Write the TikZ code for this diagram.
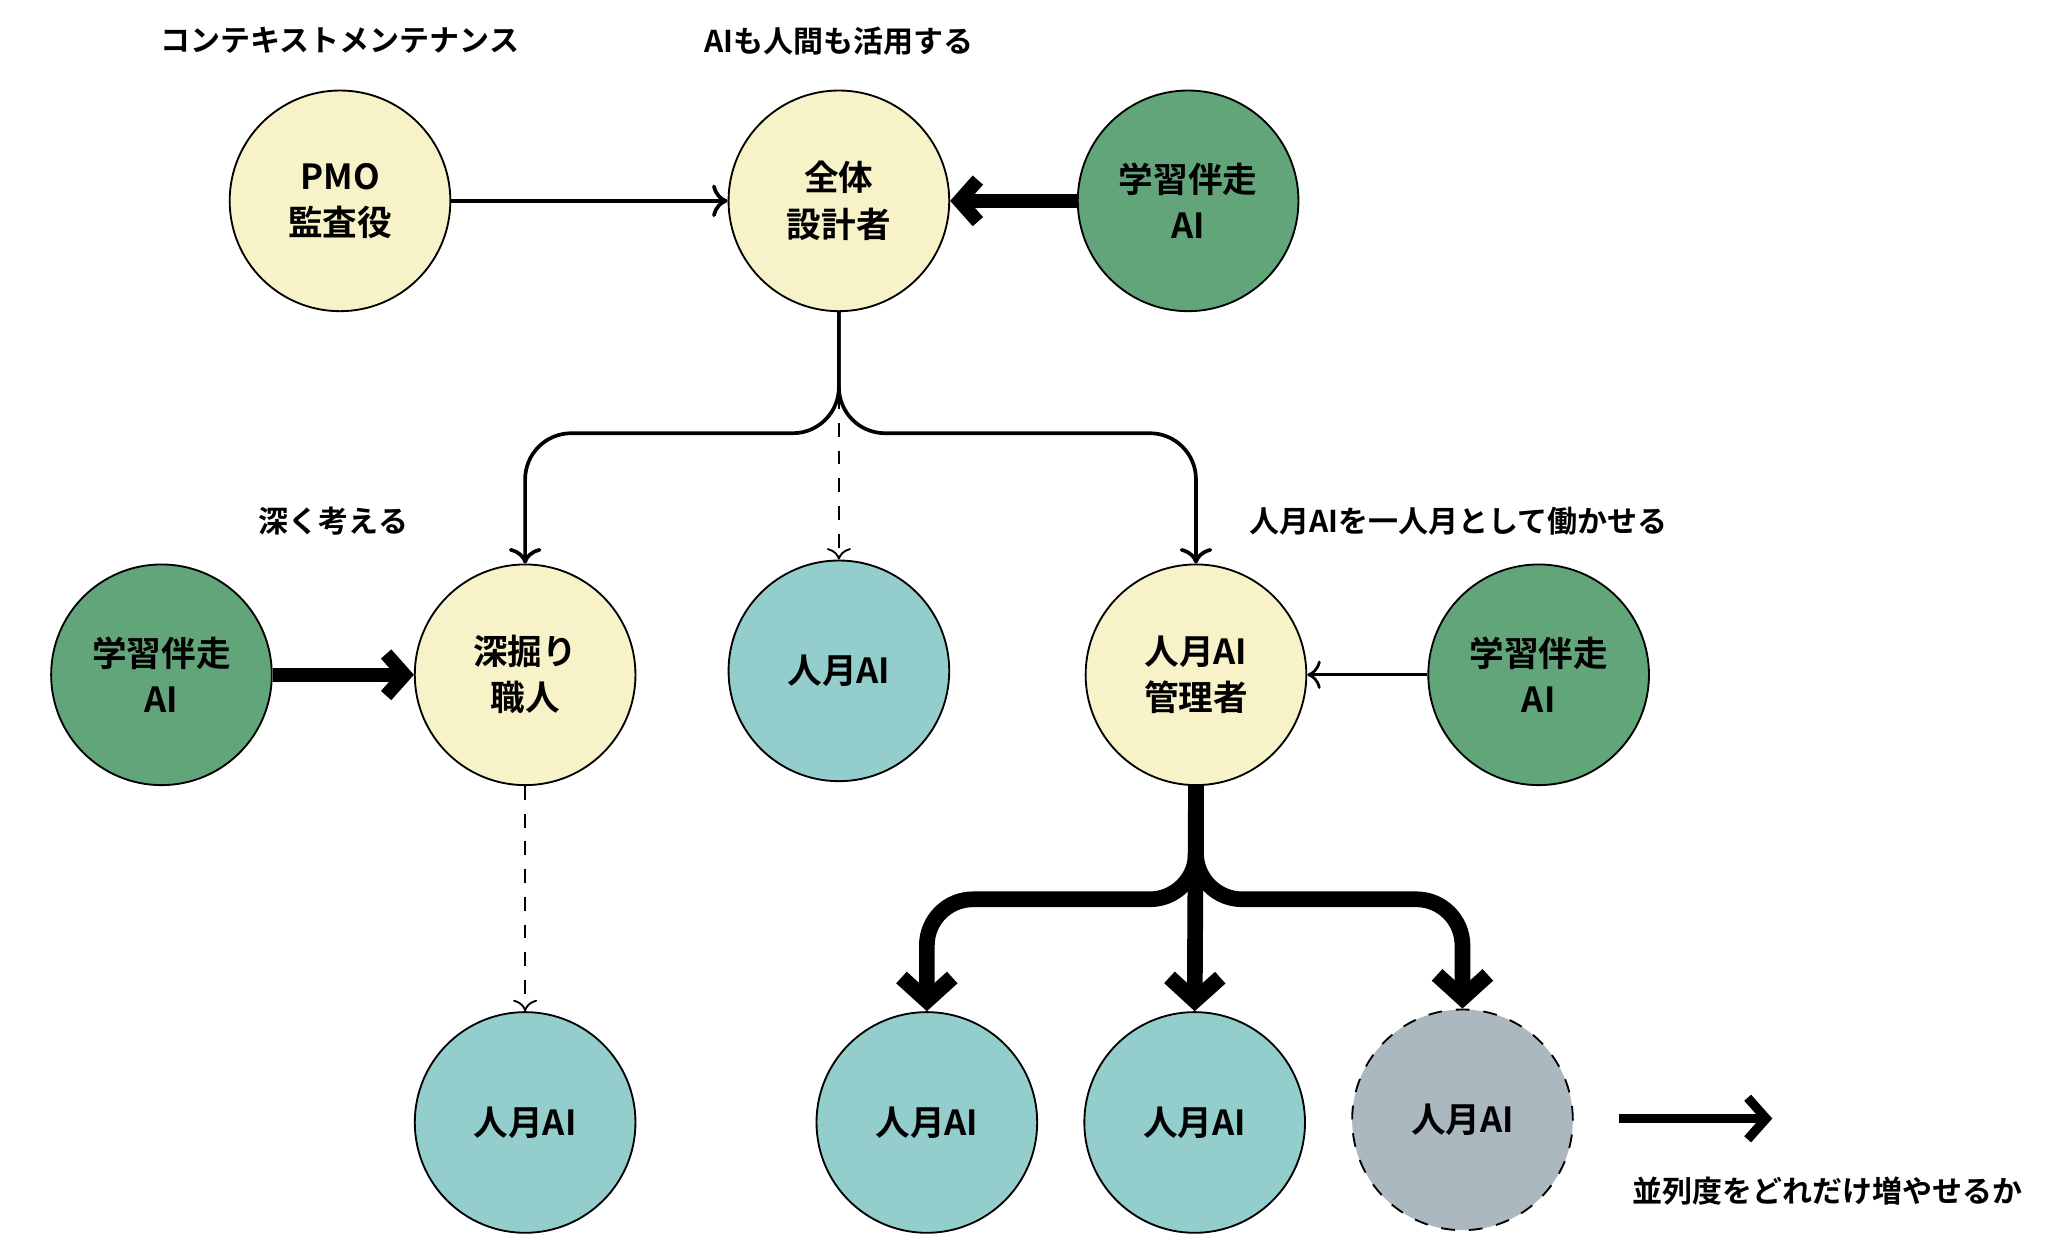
\documentclass[tikz,border=0pt]{standalone}
\usepackage{fontspec}
\setmainfont{Noto Sans CJK JP}[BoldFont={Noto Sans CJK JP Bold}]
\usetikzlibrary{arrows.meta,positioning}
\definecolor{humancolor}{HTML}{F7F2C8}
\definecolor{coachcolor}{HTML}{62A57A}
\definecolor{workercolor}{HTML}{93CDCC}
\definecolor{extracolor}{HTML}{ABB8C0}

\begin{document}
\begin{tikzpicture}[x=0.01cm,y=-0.01cm,font=\bfseries\fontsize{7.5}{10}\selectfont,
  role/.style={circle,draw,thin,minimum size=1.68cm,inner sep=0pt,align=center},
  human/.style={role,fill=humancolor},
  coach/.style={role,fill=coachcolor},
  worker/.style={role,fill=workercolor},
  note/.style={font=\bfseries\fontsize{6.5}{8}\selectfont}]
  \useasboundingbox (0,0) rectangle (1560,952);
  % top row
  \node[human] (pmo) at (259,153) {PMO\\監査役};
  \node[human] (arch) at (639,153) {全体\\設計者};
  \node[coach] (coachA) at (905,153) {学習伴走\\AI};
  \node[note] at (259,31) {コンテキストメンテナンス};
  \node[note] at (639,31) {AIも人間も活用する};
  % middle row
  \node[coach] (coachB) at (123,514) {学習伴走\\AI};
  \node[human] (deep) at (400,514) {深掘り\\職人};
  \node[worker] (solo) at (639,511) {人月AI};
  \node[human] (mgr) at (911,514) {人月AI\\管理者};
  \node[coach] (coachC) at (1172,514) {学習伴走\\AI};
  \node[note] at (254,397) {深く考える};
  \node[note] at (1111,397) {人月AIを一人月として働かせる};
  % bottom row
  \node[worker] (deepAI) at (400,855) {人月AI};
  \node[worker] (ai1) at (706,855) {人月AI};
  \node[worker] (ai2) at (910,855) {人月AI};
  \node[role,dashed,fill=extracolor] (ai3) at (1114,853) {人月AI};
  \coordinate (scaleA) at (1233,852);
  \coordinate (scaleB) at (1350,852);
  \node[note] at (1392,907) {並列度をどれだけ増やせるか};
  % connectors
  \draw[->,thick] (pmo) -- (arch);
  \draw[-{Straight Barb[length=4pt,width=9pt]},line width=3pt] (coachA) -- (arch);
  \draw[-{Straight Barb[length=4pt,width=9pt]},line width=3pt] (coachB) -- (deep);
  \draw[->,semithick] (coachC) -- (mgr);
  \draw[->,thick,rounded corners=10pt] (arch.south) -- (639,330) -| (deep.north);
  \draw[->,thick,rounded corners=10pt] (arch.south) -- (639,330) -| (mgr.north);
  \draw[->,dashed,thin] (arch.south) -- (solo.north);
  \draw[->,dashed,thin] (deep.south) -- (deepAI.north);
  \draw[-{Straight Barb[length=5pt,width=11pt]},line width=3.4pt,rounded corners=10pt] (mgr.south) -- (911,685) -| (ai1.north);
  \draw[-{Straight Barb[length=5pt,width=11pt]},line width=3.4pt,rounded corners=10pt] (mgr.south) -- (911,685) -| (ai3.north);
  \draw[-{Straight Barb[length=5pt,width=11pt]},line width=3.4pt] (mgr.south) -- (ai2.north);
  \draw[-{Straight Barb[length=4pt,width=9pt]},line width=2pt] (scaleA) -- (scaleB);
\end{tikzpicture}
\end{document}
